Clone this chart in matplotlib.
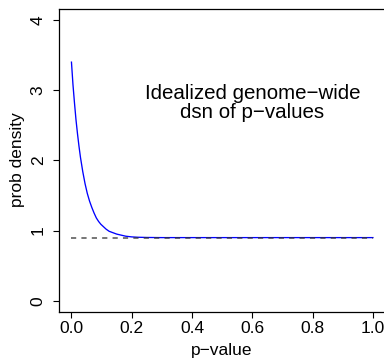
import matplotlib
matplotlib.use("Agg")
import matplotlib.pyplot as plt

# values
p_values = [0.0, 0.005, 0.01, 0.015, 0.02, 0.025, 0.03, 0.0375, 0.045, 0.0525,
            0.06, 0.0675, 0.075, 0.0825, 0.09, 0.0975, 0.105, 0.115, 0.125,
            0.1375, 0.15, 0.165, 0.18, 0.20, 0.22, 0.25, 0.30, 0.50, 1.0]
density = [3.40, 3.08, 2.82, 2.58, 2.38, 2.20, 2.04, 1.84, 1.67, 1.53,
           1.42, 1.33, 1.25, 1.18, 1.13, 1.09, 1.06, 1.02, 0.99,
           0.97, 0.95, 0.935, 0.92, 0.91, 0.905, 0.902, 0.90, 0.90, 0.90]
baseline_x = [0.0, 1.0]
baseline_y = [0.9, 0.9]
x_ticks = [0.0, 0.2, 0.4, 0.6, 0.8, 1.0]
x_tick_labels = ["0.0", "0.2", "0.4", "0.6", "0.8", "1.0"]
y_ticks = [0, 1, 2, 3, 4]
y_tick_labels = ["0", "1", "2", "3", "4"]
annotation = "Idealized genome\u2212wide\ndsn of p\u2212values"

plt.rcParams['font.family'] = ['Liberation Sans', 'DejaVu Sans']

W, H = 384, 360
fig = plt.figure(figsize=(W / 100, H / 100), dpi=100)
left, right, top, bottom = 59.4, 385.0, 8.8, 312.0
ax = fig.add_axes([left / W, 1 - bottom / H, (right - left) / W, (bottom - top) / H])

ax.plot(p_values, density, color='blue', lw=0.95, zorder=2)
ax.plot(baseline_x, baseline_y, color='#333333', lw=1.1, ls=(0, (3.4, 3.4)),
        zorder=3, alpha=0.85)

ax.set_xlim(-0.04, 1.04)
ax.set_ylim(-0.16, 4.16)

ax.set_xticks(x_ticks)
ax.set_xticklabels(x_tick_labels, fontsize=12.5)
ax.set_yticks(y_ticks)
ax.set_yticklabels(y_tick_labels, fontsize=12.5, rotation=90, va='center')
ax.tick_params(axis='both', direction='out', length=4.3, width=0.8, color='black')
ax.tick_params(axis='x', pad=2.5)
ax.tick_params(axis='y', pad=5.5)

for s in ['left', 'top', 'bottom']:
    ax.spines[s].set_linewidth(0.9)
    ax.spines[s].set_color('black')
ax.spines['right'].set_visible(False)

ax.text(0.6, 2.82, annotation, ha='center', va='center', fontsize=14.8,
        linespacing=1.0)

fig.text(222 / W, 1 - 350 / H, "p\u2212value", ha='center', va='center', fontsize=12.5)
fig.text(18 / W, 1 - 160 / H, "prob density", ha='center', va='center',
         rotation=90, fontsize=12.5)

fig.savefig("out.png", dpi=100)
